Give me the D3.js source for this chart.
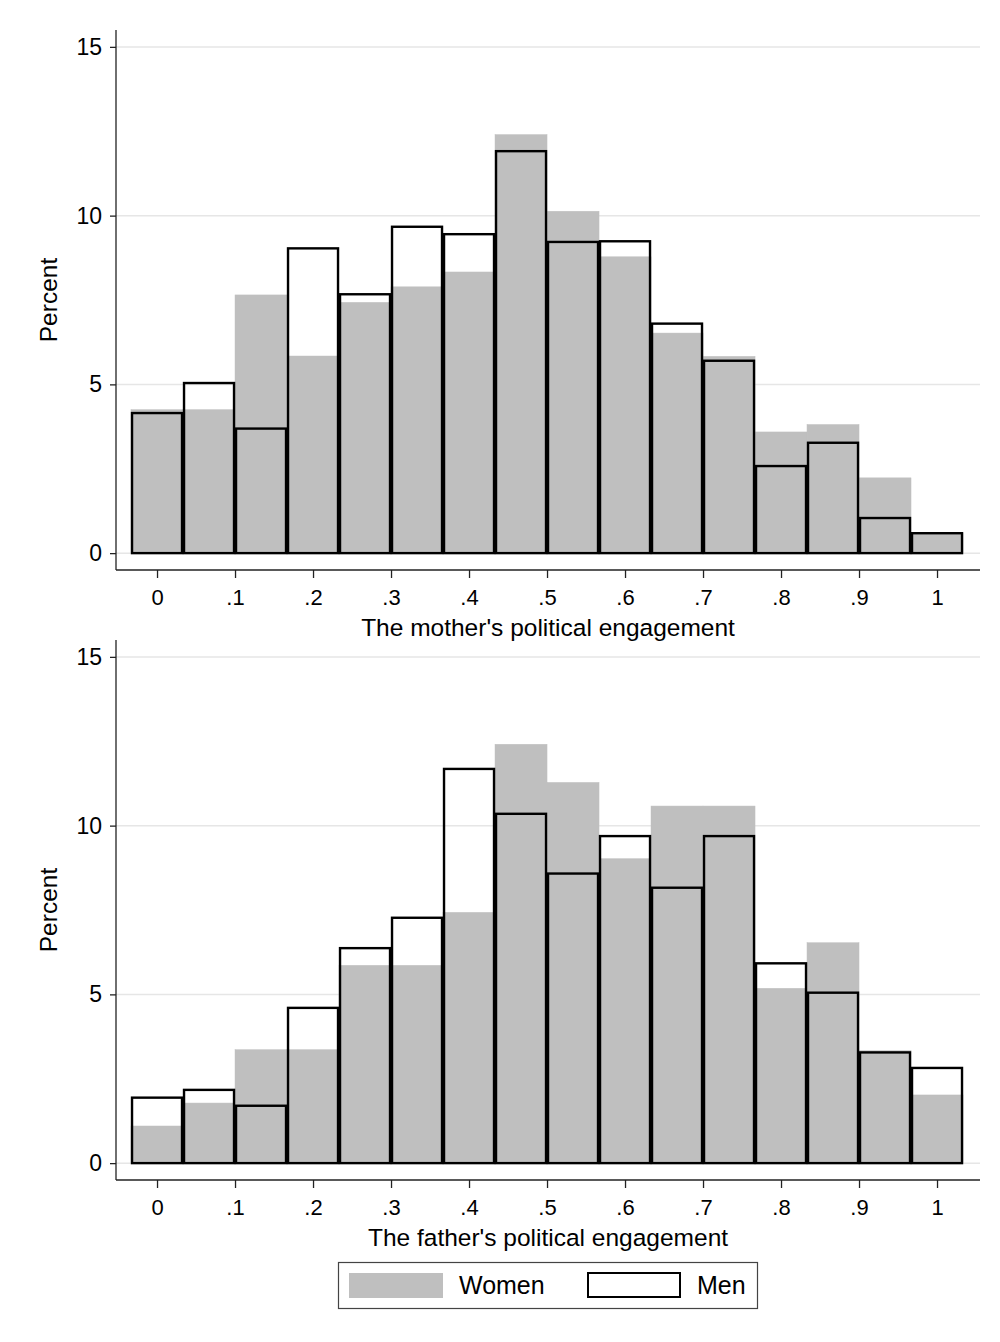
<!DOCTYPE html>
<html>
<head>
<meta charset="utf-8">
<script src="https://cdn.jsdelivr.net/npm/d3@7"></script>
<style>
  body { margin: 0; background: #fff; }
  svg { display: block; font-family: "Liberation Sans", Arial, sans-serif; }
</style>
</head>
<body>
<svg id="chart"></svg>
<script>
// bins centred at k/15, k = 0..15
const binCenters = d3.range(16).map(k => k / 15);
const xTicks = [0, .1, .2, .3, .4, .5, .6, .7, .8, .9, 1];
const yTicks = [0, 5, 10, 15];

const motherWomen = [4.25, 4.25, 7.65, 5.84, 7.43, 7.89, 8.33, 12.40, 10.13, 8.78, 6.52, 5.83, 3.59, 3.81, 2.23, 0.60];
const motherMen   = [4.15, 5.04, 3.69, 9.03, 7.67, 9.67, 9.45, 11.91, 9.22, 9.24, 6.80, 5.70, 2.58, 3.27, 1.04, 0.59];

const fatherWomen = [1.10, 1.78, 3.36, 3.36, 5.86, 5.86, 7.43, 12.41, 11.28, 9.02, 10.58, 10.58, 5.18, 6.53, 3.33, 2.02];
const fatherMen   = [1.94, 2.17, 1.70, 4.60, 6.37, 7.27, 11.68, 10.35, 8.58, 9.69, 8.16, 9.69, 5.92, 5.05, 3.28, 2.82];

const width = 1000, height = 1342;
const svg = d3.select("#chart").attr("width", width).attr("height", height);

const x = d3.scaleLinear().domain([-0.0526, 1.0551]).range([116, 980]);
const binW = x(1 / 15) - x(0);

function panel(top, women, men, title) {
  const y = d3.scaleLinear().domain([-0.5, 15.5]).range([top + 540, top]);
  const g = svg.append("g");

  // gridlines
  g.selectAll(".grid")
    .data(yTicks)
    .join("line")
    .attr("x1", 116).attr("x2", 980)
    .attr("y1", d => y(d)).attr("y2", d => y(d))
    .attr("stroke", "#e6e6e6").attr("stroke-width", 1.5);

  // women (grey fill)
  g.selectAll(".women")
    .data(women)
    .join("rect")
    .attr("x", (d, i) => x(binCenters[i]) - binW / 2)
    .attr("width", binW)
    .attr("y", d => y(d))
    .attr("height", d => y(0) - y(d))
    .attr("fill", "#bfbfbf")
    .attr("stroke", "#bfbfbf")
    .attr("stroke-width", 0.5);

  // men (outline)
  g.selectAll(".men")
    .data(men)
    .join("rect")
    .attr("x", (d, i) => x(binCenters[i]) - binW / 2 + 1)
    .attr("width", binW - 2)
    .attr("y", d => y(d))
    .attr("height", d => y(0) - y(d))
    .attr("fill", "none")
    .attr("stroke", "#000")
    .attr("stroke-width", 2.4);

  // y axis
  g.append("g")
    .attr("transform", "translate(116,0)")
    .call(d3.axisLeft(y).tickValues(yTicks).tickSize(6).tickPadding(8).tickFormat(d3.format("d")))
    .call(a => a.select(".domain").attr("d", `M0,${top}V${top + 540}`).attr("stroke", "#222").attr("stroke-width", 1.3))
    .call(a => a.selectAll(".tick line").attr("stroke", "#222").attr("stroke-width", 1.3))
    .selectAll("text")
    .attr("font-size", 23).attr("fill", "#000");

  // x axis
  g.append("g")
    .attr("transform", `translate(0,${top + 540})`)
    .call(d3.axisBottom(x).tickValues(xTicks).tickSize(8).tickPadding(11)
      .tickFormat(d => d === 0 ? "0" : d === 1 ? "1" : d3.format(".1f")(d).replace(/^0/, "")))
    .call(a => a.select(".domain").attr("d", "M116,0H980").attr("stroke", "#222").attr("stroke-width", 1.3))
    .call(a => a.selectAll(".tick line").attr("stroke", "#222").attr("stroke-width", 1.3))
    .selectAll("text")
    .attr("font-size", 22).attr("fill", "#000");

  g.append("text")
    .attr("x", 548).attr("y", top + 606)
    .attr("text-anchor", "middle")
    .attr("font-size", 24.5)
    .text(title);

  g.append("text")
    .attr("transform", `translate(57,${top + 270}) rotate(-90)`)
    .attr("text-anchor", "middle")
    .attr("font-size", 24.5)
    .text("Percent");
}

panel(30, motherWomen, motherMen, "The mother's political engagement");
panel(640, fatherWomen, fatherMen, "The father's political engagement");

// legend
const lg = svg.append("g");
lg.append("rect").attr("x", 338.5).attr("y", 1262.5).attr("width", 419).attr("height", 46)
  .attr("fill", "#fff").attr("stroke", "#444").attr("stroke-width", 1.2);
lg.append("rect").attr("x", 349).attr("y", 1273).attr("width", 94).attr("height", 25)
  .attr("fill", "#bfbfbf");
lg.append("text").attr("x", 459).attr("y", 1294).attr("font-size", 25).text("Women");
lg.append("rect").attr("x", 588).attr("y", 1273).attr("width", 92).attr("height", 24)
  .attr("fill", "none").attr("stroke", "#000").attr("stroke-width", 2);
lg.append("text").attr("x", 697).attr("y", 1294).attr("font-size", 25).text("Men");
</script>
</body>
</html>
